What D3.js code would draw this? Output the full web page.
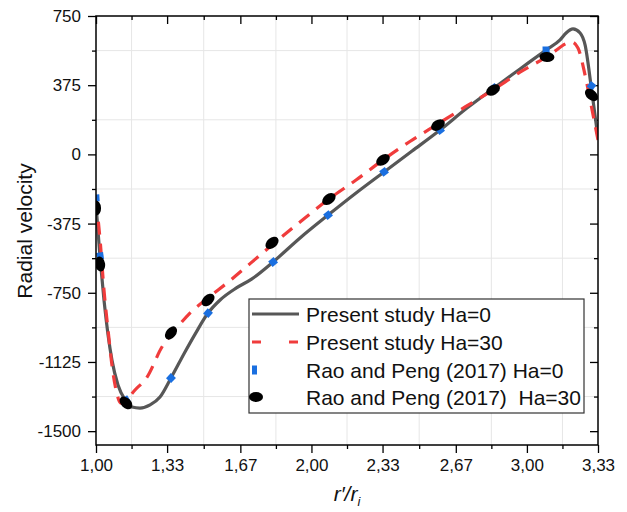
<!DOCTYPE html>
<html>
<head>
<meta charset="utf-8">
<script src="https://cdn.jsdelivr.net/npm/d3@7"></script>
<style>
  body { margin: 0; background: #fff; }
  text { font-family: "Liberation Sans", Arial, sans-serif; }
</style>
</head>
<body>
<div id="chart"></div>
<script>
// data
var xTicks = [1.00, 1.33, 1.67, 2.00, 2.33, 2.67, 3.00, 3.33];
var yTicks = [750, 375, 0, -375, -750, -1125, -1500];

var presentHa0X = [1.00, 1.019, 1.037, 1.056, 1.074, 1.102, 1.135, 1.167, 1.204, 1.251, 1.297, 1.348, 1.413, 1.46, 1.52, 1.576, 1.65, 1.722, 1.822, 1.947, 2.077, 2.207, 2.337, 2.467, 2.597, 2.722, 2.847, 2.968, 3.089, 3.154, 3.182, 3.214, 3.247, 3.27, 3.298, 3.33];
var presentHa0Y = [-274, -562, -789, -979, -1115, -1250, -1331, -1369, -1375, -1358, -1315, -1212, -1071, -974, -860, -789, -725, -676, -583, -453, -329, -209, -95, 18, 132, 251, 360, 463, 566, 620, 658, 680, 658, 593, 371, 90];

var presentHa30X = [1.00, 1.019, 1.037, 1.056, 1.074, 1.093, 1.116, 1.139, 1.181, 1.237, 1.306, 1.367, 1.436, 1.52, 1.622, 1.715, 1.817, 1.947, 2.081, 2.207, 2.332, 2.457, 2.587, 2.713, 2.843, 2.968, 3.093, 3.209, 3.237, 3.27, 3.298, 3.33];
var presentHa30Y = [-247, -464, -735, -952, -1142, -1277, -1348, -1331, -1277, -1207, -1044, -952, -860, -778, -684, -592, -491, -366, -242, -139, -30, 70, 165, 257, 349, 446, 528, 609, 577, 430, 268, 78];

var raoHa0X = [1.00, 1.019, 1.139, 1.348, 1.52, 1.822, 2.077, 2.337, 2.597, 2.847, 3.089, 3.30];
var raoHa0Y = [-236, -551, -1331, -1212, -860, -583, -329, -95, 132, 360, 566, 371];

var raoHa30X = [1.00, 1.019, 1.139, 1.348, 1.52, 1.817, 2.081, 2.332, 2.587, 2.843, 3.093, 3.30];
var raoHa30Y = [-290, -594, -1347, -968, -789, -480, -242, -30, 159, 349, 528, 322];

var legendLabels = ["Present study Ha=0", "Present study Ha=30", "Rao and Peng (2017) Ha=0", "Rao and Peng (2017)  Ha=30"];

var W = 627, H = 512;
var pL = 96, pR = 598, pT = 16, pB = 445;

var svg = d3.select("#chart").append("svg")
    .attr("width", W).attr("height", H);

var x = d3.scaleLinear().domain([1, 3.33]).range([pL, pR]);
var y = d3.scaleLinear().domain([-1575, 750]).range([pB, pT]);

// minor positions (midpoints)
var xMinor = [];
for (var i = 0; i < xTicks.length - 1; i++) xMinor.push((xTicks[i] + xTicks[i + 1]) / 2);
var yMinor = [];
for (var j = 0; j < yTicks.length - 1; j++) yMinor.push((yTicks[j] + yTicks[j + 1]) / 2);

// grid at minor positions
var grid = svg.append("g");
grid.selectAll("line.gx").data(xMinor).enter().append("line")
    .attr("x1", function(d) { return x(d); }).attr("x2", function(d) { return x(d); })
    .attr("y1", pT).attr("y2", pB)
    .attr("stroke", "#e6e6e6").attr("stroke-width", 1);
grid.selectAll("line.gy").data(yMinor).enter().append("line")
    .attr("y1", function(d) { return y(d); }).attr("y2", function(d) { return y(d); })
    .attr("x1", pL).attr("x2", pR)
    .attr("stroke", "#e6e6e6").attr("stroke-width", 1);

function fmtX(d) { return d3.format(".2f")(d).replace(".", ","); }
function fmtY(d) { return String(d); }

function noDomain(g) { g.select(".domain").remove(); }

// bottom axis
svg.append("g").attr("transform", "translate(0," + pB + ")")
    .call(d3.axisBottom(x).tickValues(xTicks).tickSize(8).tickPadding(6).tickFormat(fmtX))
    .call(noDomain);
svg.append("g").attr("transform", "translate(0," + pB + ")")
    .call(d3.axisBottom(x).tickValues(xMinor).tickSize(4).tickFormat(""))
    .call(noDomain);
// top axis (ticks inward)
svg.append("g").attr("transform", "translate(0," + pT + ")")
    .call(d3.axisBottom(x).tickValues(xTicks).tickSize(8).tickFormat(""))
    .call(noDomain);
svg.append("g").attr("transform", "translate(0," + pT + ")")
    .call(d3.axisBottom(x).tickValues(xMinor).tickSize(4).tickFormat(""))
    .call(noDomain);
// left axis
svg.append("g").attr("transform", "translate(" + pL + ",0)")
    .call(d3.axisLeft(y).tickValues(yTicks).tickSize(8).tickPadding(7).tickFormat(fmtY))
    .call(noDomain);
svg.append("g").attr("transform", "translate(" + pL + ",0)")
    .call(d3.axisLeft(y).tickValues(yMinor).tickSize(4).tickFormat(""))
    .call(noDomain);
// right axis (ticks inward)
svg.append("g").attr("transform", "translate(" + pR + ",0)")
    .call(d3.axisLeft(y).tickValues(yTicks).tickSize(8).tickFormat(""))
    .call(noDomain);
svg.append("g").attr("transform", "translate(" + pR + ",0)")
    .call(d3.axisLeft(y).tickValues(yMinor).tickSize(4).tickFormat(""))
    .call(noDomain);

svg.selectAll(".tick line").attr("stroke", "#000").attr("stroke-width", 1.3);
svg.selectAll(".tick text").attr("font-size", 17).attr("fill", "#111")
    .style("font-family", "'Liberation Sans', Arial, sans-serif");

// lines
svg.append("clipPath").attr("id", "clip").append("rect")
    .attr("x", pL).attr("y", pT).attr("width", pR - pL).attr("height", pB - pT);

var line = d3.line()
    .x(function(d) { return x(d[0]); })
    .y(function(d) { return y(d[1]); })
    .curve(d3.curveMonotoneX);

var plot = svg.append("g").attr("clip-path", "url(#clip)");

plot.append("path").datum(d3.zip(presentHa0X, presentHa0Y))
    .attr("d", line).attr("fill", "none")
    .attr("stroke", "#575757").attr("stroke-width", 3.2);

plot.append("path").datum(d3.zip(presentHa30X, presentHa30Y))
    .attr("d", line).attr("fill", "none")
    .attr("stroke", "#f03c3c").attr("stroke-width", 3.2)
    .attr("stroke-dasharray", "13,9");

// marker orientation follows the local slope on screen
function angles(xs, ys) {
  return xs.map(function(v, k) {
    var a = Math.max(0, k - 1), b = Math.min(xs.length - 1, k + 1);
    return Math.atan2(y(ys[b]) - y(ys[a]), x(xs[b]) - x(xs[a])) * 180 / Math.PI;
  });
}

var a0 = angles(raoHa0X, raoHa0Y);
plot.selectAll("rect.rao0").data(d3.zip(raoHa0X, raoHa0Y, a0)).enter().append("rect")
    .attr("x", -3.5).attr("y", -3.5).attr("width", 7).attr("height", 7)
    .attr("fill", "#1a6fe0")
    .attr("transform", function(d) { return "translate(" + x(d[0]) + "," + y(d[1]) + ") rotate(" + d[2] + ")"; });

var a30 = angles(raoHa30X, raoHa30Y);
plot.selectAll("ellipse.rao30").data(d3.zip(raoHa30X, raoHa30Y, a30)).enter().append("ellipse")
    .attr("rx", 7.5).attr("ry", 5)
    .attr("fill", "#000")
    .attr("transform", function(d) { return "translate(" + x(d[0]) + "," + y(d[1]) + ") rotate(" + d[2] + ")"; });

// frame
svg.append("rect").attr("x", pL).attr("y", pT)
    .attr("width", pR - pL).attr("height", pB - pT)
    .attr("fill", "none").attr("stroke", "#000").attr("stroke-width", 1.5);

// legend
var lg = svg.append("g");
lg.append("rect").attr("x", 249).attr("y", 299).attr("width", 335).attr("height", 114)
    .attr("fill", "#fff").attr("stroke", "#333").attr("stroke-width", 1.2);
var rowY = [314, 342, 370, 397];
lg.selectAll("text").data(legendLabels).enter().append("text")
    .attr("x", 306).attr("y", function(d, k) { return rowY[k]; })
    .attr("dy", "0.36em").attr("font-size", 21).attr("fill", "#111")
    .style("white-space", "pre")
    .text(function(d) { return d; });
lg.append("line").attr("x1", 252).attr("x2", 299).attr("y1", rowY[0]).attr("y2", rowY[0])
    .attr("stroke", "#575757").attr("stroke-width", 3.2);
lg.append("line").attr("x1", 252).attr("x2", 299).attr("y1", rowY[1]).attr("y2", rowY[1])
    .attr("stroke", "#f03c3c").attr("stroke-width", 3.2).attr("stroke-dasharray", "9,28");
lg.append("rect").attr("x", 252).attr("y", rowY[2] - 4.5).attr("width", 5).attr("height", 9)
    .attr("fill", "#1a6fe0");
lg.append("ellipse").attr("cx", 256).attr("cy", rowY[3]).attr("rx", 7).attr("ry", 5)
    .attr("fill", "#000");

// axis titles
svg.append("text").attr("transform", "translate(25,231) rotate(-90)")
    .attr("text-anchor", "middle").attr("dy", "0.35em")
    .attr("font-size", 21).attr("fill", "#111")
    .text("Radial velocity");

var xt = svg.append("text").attr("x", 347).attr("y", 501)
    .attr("text-anchor", "middle").attr("font-size", 21).attr("fill", "#111")
    .attr("font-style", "italic");
xt.append("tspan").text("r′/r");
xt.append("tspan").attr("font-size", 13).attr("dy", 5).text("i");
</script>
</body>
</html>
